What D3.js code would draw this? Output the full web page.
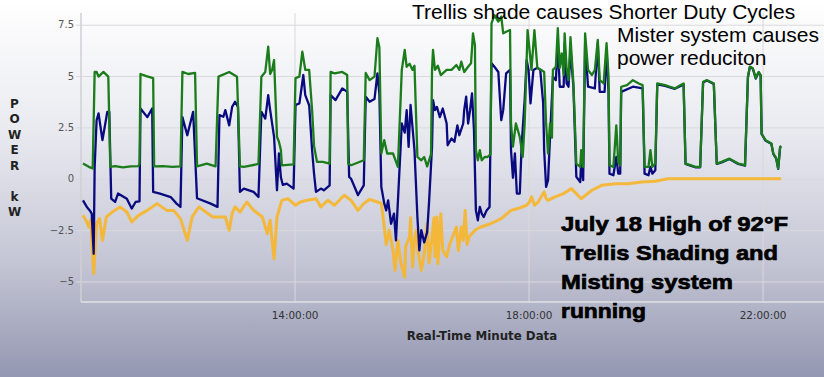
<!DOCTYPE html>
<html><head><meta charset="utf-8">
<script src="https://cdn.jsdelivr.net/npm/d3@7/dist/d3.min.js"></script>
<style>html,body{margin:0;padding:0;overflow:hidden;background:#fff}</style>
</head><body><svg id="chart" width="824" height="377"></svg>
<script>
// ---- data (time of day, kW) ----
const xTickLabels = ["14:00:00", "18:00:00", "22:00:00"];
const yTicks = [-5, -2.5, 0, 2.5, 5, 7.5];
const yAxisTitle = ["P","O","W","E","R","","k","W"];
const xAxisTitle = "Real-Time Minute Data";
const topNote = "Trellis shade causes Shorter Duty Cycles";
const misterNote = ["Mister system causes", "power reduciton"];
const dayNote = ["July 18 High of 92\u00B0F", "Trellis Shading and", "Misting system", "running"];

const greenLoad = [["10:23",0.74],["10:29",0.58],["10:33",0.50],["10:35",5.20],["10:37",5.20],["10:39",4.97],["10:44",5.20],["10:49",4.97],["10:51",0.58],["10:56",0.62],["11:04",0.55],["11:12",0.60],["11:20",0.62],["11:21",0.74],["11:22",5.10],["11:28",5.00],["11:35",4.90],["11:36",0.60],["11:45",0.62],["11:55",0.58],["12:03",0.60],["12:05",5.20],["12:11",5.10],["12:18",5.15],["12:20",0.60],["12:30",0.74],["12:39",0.60],["12:42",4.97],["12:53",5.20],["13:01",4.97],["13:04",0.60],["13:08",0.58],["13:23",0.72],["13:26",4.97],["13:30",5.20],["13:33",6.43],["13:35",5.10],["13:37",5.30],["13:39",5.78],["13:42",2.04],["13:44",1.80],["13:46",1.40],["13:47",0.65],["13:59",0.70],["14:01",4.90],["14:05",4.97],["14:08",6.19],["14:11",5.30],["14:15",5.30],["14:18",3.34],["14:20",1.60],["14:23",0.82],["14:29",0.82],["14:36",0.74],["14:37",5.20],["14:41",5.13],["14:49",5.20],["14:54",5.05],["14:55",0.74],["14:58",0.66],["15:11",0.90],["15:13",5.15],["15:17",4.80],["15:22",4.97],["15:25",6.84],["15:27",6.40],["15:29",1.23],["15:32",1.88],["15:35",1.23],["15:41",1.23],["15:46",0.58],["15:50",5.30],["15:53",6.27],["15:55",5.45],["15:58",5.60],["16:01",5.30],["16:03",5.50],["16:06",1.06],["16:10",0.90],["16:13",1.06],["16:16",0.60],["16:20",1.20],["16:21",5.30],["16:22",6.27],["16:24",5.30],["16:27",5.50],["16:30",5.05],["16:36",5.30],["16:41",5.30],["16:46",5.54],["16:49",5.30],["16:51",5.70],["16:54",5.20],["16:58",5.45],["17:01",5.62],["17:03",7.08],["17:05",6.50],["17:06",1.39],["17:08",0.90],["17:10",1.39],["17:12",0.90],["17:15",1.06],["17:18",1.06],["17:21",1.20],["17:22",7.57],["17:25",7.97],["17:29",7.65],["17:32",7.90],["17:34",7.08],["17:37",7.16],["17:41",7.24],["17:42",2.69],["17:44",1.56],["17:47",2.69],["17:51",2.04],["17:54",1.06],["17:56",2.69],["17:59",7.24],["18:01",6.27],["18:03",5.30],["18:06",7.24],["18:09",5.40],["18:13",5.30],["18:16",5.20],["18:18",2.69],["18:20",1.23],["18:22",2.69],["18:24",2.00],["18:25",5.30],["18:28",5.45],["18:30",7.33],["18:32",5.40],["18:34",6.10],["18:36",5.05],["18:37",7.08],["18:39",5.40],["18:41",4.80],["18:43",6.90],["18:46",4.64],["18:49",0.74],["18:53",0.58],["18:54",1.39],["18:56",0.58],["18:58",7.08],["19:01",5.30],["19:05",5.05],["19:08",5.30],["19:11",6.76],["19:13",4.80],["19:17",4.64],["19:20",6.60],["19:22",5.00],["19:23",0.66],["19:27",0.58],["19:30",2.60],["19:32",0.80],["19:34",0.66],["19:35",4.48],["19:41",4.56],["19:47",4.80],["19:53",4.64],["19:57",4.56],["19:59",0.58],["20:03",0.58],["20:05",1.39],["20:07",0.58],["20:10",0.74],["20:12",4.64],["20:20",4.56],["20:25",4.48],["20:30",4.40],["20:36",4.56],["20:39",4.64],["20:41",0.74],["20:46",0.66],["20:51",0.58],["20:56",0.58],["20:59",4.72],["21:03",4.80],["21:10",4.64],["21:13",0.74],["21:18",0.82],["21:26",0.98],["21:35",0.74],["21:42",0.66],["21:45",4.97],["21:47",5.46],["21:50",5.38],["21:53",4.90],["21:56",5.20],["21:58",5.05],["21:59",2.20],["22:03",1.88],["22:06",1.80],["22:09",1.72],["22:11",1.23],["22:14",1.00],["22:16",0.50],["22:18",1.55],["22:19",1.60]];

const navyNet = [["10:23",-1.05],["10:27",-1.37],["10:30",-1.54],["10:32",-1.70],["10:34",-3.65],["10:35",0.58],["10:37",2.85],["10:39",3.18],["10:43",1.88],["10:48",3.26],["10:50",3.26],["10:52",-0.97],["10:56",-1.13],["10:59",-0.72],["11:08",-0.97],["11:13",-1.45],["11:17",-1.13],["11:21",-1.10],["11:22",3.42],["11:29",3.00],["11:34",3.42],["11:35",-0.64],["11:42",-0.72],["11:53",-0.89],["11:59",-1.21],["12:03",-1.37],["12:05",3.00],["12:10",2.12],["12:16",3.26],["12:20",-0.95],["12:34",-1.21],["12:41",-1.37],["12:43",3.10],["12:47",3.02],["12:49",3.34],["12:53",2.60],["12:56",3.50],["12:59",3.75],["13:02",3.50],["13:04",-0.64],["13:08",-0.48],["13:18",-0.64],["13:23",-0.89],["13:26",3.26],["13:30",2.93],["13:33",4.07],["13:35",3.34],["13:39",2.04],["13:42",-0.56],["13:44",1.23],["13:46",0.07],["13:48",-0.30],["13:52",-0.24],["13:59",-0.48],["14:01",3.59],["14:05",3.67],["14:09",5.05],["14:11",4.07],["14:15",3.58],["14:18",1.40],["14:20",0.25],["14:22",-0.64],["14:27",-0.48],["14:30",-0.56],["14:36",-0.32],["14:37",4.07],["14:42",3.83],["14:49",4.40],["14:54",4.23],["14:56",0.09],["14:58",0.00],["15:03",-0.56],["15:05",-0.80],["15:11",-0.32],["15:13",3.99],["15:17",3.75],["15:22",3.88],["15:25",5.13],["15:27",4.15],["15:29",-0.40],["15:32",-1.20],["15:34",-1.54],["15:36",-1.05],["15:39",-2.19],["15:42",-1.70],["15:44",-3.00],["15:46",-1.10],["15:50",2.69],["15:53",2.25],["15:55",3.34],["15:57",1.55],["15:59",3.59],["16:03",1.40],["16:06",-1.86],["16:08",-3.49],["16:10",-2.50],["16:13",-3.10],["16:16",-2.60],["16:18",-1.10],["16:21",1.55],["16:22",3.83],["16:24",3.34],["16:26",3.50],["16:29",3.00],["16:32",3.42],["16:36",2.69],["16:37",1.63],["16:41",1.96],["16:44",1.80],["16:47",2.60],["16:49",2.12],["16:53",2.69],["16:54",3.34],["16:56",4.00],["16:58",2.69],["17:00",3.34],["17:02",4.15],["17:04",2.40],["17:06",-1.54],["17:08",-2.02],["17:10",-1.37],["17:12",-1.70],["17:14",-1.86],["17:17",-1.54],["17:20",-1.37],["17:22",5.62],["17:25",5.45],["17:29",5.20],["17:32",2.85],["17:34",3.34],["17:37",5.13],["17:41",5.30],["17:42",1.40],["17:44",0.05],["17:46",1.23],["17:48",-0.72],["17:51",-0.72],["17:53",1.72],["17:56",3.83],["17:58",5.78],["18:00",5.30],["18:02",3.67],["18:05",5.30],["18:09",5.40],["18:12",5.30],["18:15",3.67],["18:16",1.39],["18:18",-0.40],["18:20",-0.07],["18:22",2.00],["18:25",4.97],["18:28",4.80],["18:30",6.60],["18:32",4.48],["18:36",4.48],["18:37",6.60],["18:39",4.64],["18:41",4.48],["18:43",6.27],["18:46",4.48],["18:49",0.09],["18:53",-0.16],["18:54",0.90],["18:56",-0.07],["18:58",6.60],["19:01",4.48],["19:08",4.40],["19:11",6.60],["19:13",4.23],["19:18",4.23],["19:20",6.27],["19:22",4.23],["19:23",0.25],["19:27",0.17],["19:30",1.06],["19:32",0.25],["19:34",0.25],["19:35",4.23],["19:47",4.48],["19:57",4.40],["19:59",0.25],["20:03",0.17],["20:05",0.58],["20:07",0.25],["20:10",0.41],["20:12",4.60],["20:20",4.52],["20:25",4.45],["20:30",4.38],["20:36",4.52],["20:39",4.60],["20:41",0.72],["20:46",0.64],["20:51",0.56],["20:56",0.56],["20:59",4.70],["21:03",4.78],["21:10",4.62],["21:13",0.72],["21:18",0.80],["21:26",0.96],["21:35",0.72],["21:42",0.64],["21:45",4.95],["21:47",5.44],["21:50",5.36],["21:53",4.88],["21:56",5.18],["21:58",5.03],["21:59",2.18],["22:03",1.86],["22:06",1.78],["22:09",1.70],["22:11",1.21],["22:14",0.98],["22:16",0.48],["22:18",1.53],["22:19",1.58]];

const orangeSolar = [["10:23",-1.78],["10:27",-2.10],["10:29",-2.35],["10:31",-2.00],["10:34",-4.62],["10:37",-2.18],["10:40",-1.94],["10:43",-3.00],["10:47",-1.86],["10:53",-1.62],["11:01",-1.37],["11:08",-1.62],["11:13",-2.10],["11:20",-1.78],["11:29",-1.54],["11:39",-1.21],["11:49",-1.54],["11:56",-1.54],["12:03",-1.94],["12:10",-3.00],["12:15",-1.86],["12:22",-1.37],["12:36",-1.86],["12:49",-1.86],["12:53",-2.51],["12:56",-1.70],["12:59",-1.37],["13:04",-1.62],["13:11",-1.13],["13:18",-1.53],["13:27",-1.86],["13:32",-2.67],["13:35",-2.02],["13:37",-3.00],["13:39",-3.90],["13:42",-1.86],["13:47",-1.05],["13:53",-0.97],["14:01",-1.29],["14:06",-1.13],["14:13",-1.05],["14:22",-0.97],["14:27",-1.37],["14:34",-1.05],["14:41",-1.29],["14:51",-0.80],["14:58",-1.05],["15:05",-1.54],["15:11",-1.21],["15:17",-1.00],["15:25",-1.13],["15:29",-1.20],["15:32",-2.35],["15:34",-3.20],["15:37",-2.51],["15:41",-3.49],["15:43",-4.46],["15:46",-3.00],["15:49",-4.10],["15:53",-4.79],["15:54",-3.30],["15:58",-2.84],["15:59",-1.90],["16:01",-4.30],["16:03",-3.00],["16:05",-2.50],["16:07",-3.60],["16:10",-4.46],["16:13",-3.65],["16:16",-2.19],["16:18",-4.10],["16:21",-2.84],["16:23",-1.90],["16:24",-3.80],["16:26",-1.86],["16:27",-4.14],["16:30",-1.70],["16:32",-3.49],["16:36",-3.80],["16:39",-3.20],["16:42",-2.84],["16:46",-2.35],["16:48",-3.49],["16:51",-2.35],["16:53",-3.00],["16:55",-1.54],["16:57",-3.20],["16:59",-2.84],["17:05",-2.51],["17:11",-2.35],["17:21",-2.19],["17:32",-1.94],["17:42",-1.54],["17:49",-1.45],["17:58",-1.29],["18:01",-1.13],["18:03",-0.88],["18:06",-1.29],["18:10",-1.13],["18:13",-0.88],["18:16",-0.64],["18:18",-0.97],["18:20",-1.05],["18:27",-0.88],["18:36",-0.72],["18:44",-0.48],["18:54",-0.97],["19:05",-0.56],["19:15",-0.32],["19:29",-0.24],["19:42",-0.24],["19:56",-0.16],["20:10",-0.12],["20:23",0.00],["21:00",0.00],["21:40",0.00],["22:19",0.00]];

// ---- drawing ----
(function () {
const W = 824, H = 377;
const parseHM = d3.timeParse("%H:%M");
const parseHMS = d3.timeParse("%H:%M:%S");
const svg = d3.select("#chart");
const defs = svg.append("defs");
const grad = defs.append("linearGradient").attr("id", "bg")
  .attr("x1", 0).attr("y1", 0).attr("x2", 0).attr("y2", 1);
[[0, "#ffffff"], [0.35, "#e9eaf0"], [0.7, "#c3c5d4"], [1, "#9497b1"]].forEach(s =>
  grad.append("stop").attr("offset", s[0]).attr("stop-color", s[1]));
svg.append("rect").attr("width", W).attr("height", H).attr("fill", "url(#bg)");

const pL = 81, pR = 824, pT = 13, pB = 302;
const x = d3.scaleTime().domain([parseHM("10:21"), parseHM("23:03")]).range([pL, pR]);
const y = d3.scaleLinear().domain([-6, 8.07]).range([pB, pT]);

const gridColor = "#d9d9dd";
const tickFont = "Verdana, 'DejaVu Sans', sans-serif";

const gy = svg.append("g").attr("transform", `translate(${pL},0)`)
  .call(d3.axisLeft(y).tickValues(yTicks).tickSize(-(pR - pL)).tickPadding(7)
    .tickFormat(d => d3.format("")(d)));
gy.select(".domain").remove();
gy.selectAll(".tick line").attr("x1", -5).attr("stroke", gridColor).attr("stroke-width", 1);
gy.selectAll(".tick text").attr("fill", "#555").style("font-family", tickFont).style("font-size", "10px");

const gx = svg.append("g").attr("transform", `translate(0,${pB})`)
  .call(d3.axisBottom(x).tickValues(xTickLabels.map(parseHMS))
    .tickSize(-(pB - pT)).tickPadding(9.6).tickFormat(d3.timeFormat("%H:%M:%S")));
gx.select(".domain").remove();
gx.selectAll(".tick line").attr("stroke", gridColor).attr("stroke-width", 1);
gx.selectAll(".tick text").attr("fill", "#333").style("font-family", tickFont).style("font-size", "10.4px");

svg.append("line").attr("x1", pL).attr("x2", pL).attr("y1", pT).attr("y2", pB)
  .attr("stroke", "#cfcfd4").attr("stroke-width", 1.5);
svg.append("line").attr("x1", pL).attr("x2", pR).attr("y1", pB).attr("y2", pB)
  .attr("stroke", "#e0e0e6").attr("stroke-width", 1.5);

const line = d3.line().x(d => x(parseHM(d[0]))).y(d => y(d[1]));
const series = [
  { data: orangeSolar, color: "#f6b52c", width: 3, op: 0.92 },
  { data: navyNet, color: "#0a0a80", width: 2.3, op: 1 },
  { data: greenLoad, color: "#1b7c1b", width: 2.3, op: 1 }
];
svg.append("g").selectAll("path").data(series).join("path")
  .attr("d", d => line(d.data)).attr("fill", "none")
  .attr("stroke", d => d.color).attr("stroke-width", d => d.width)
  .attr("stroke-opacity", d => d.op).attr("stroke-linejoin", "round");

svg.append("text").attr("x", 482).attr("y", 340).attr("text-anchor", "middle")
  .style("font-family", tickFont).style("font-weight", "bold").style("font-size", "11.8px")
  .attr("fill", "#222").text(xAxisTitle);
svg.append("g").selectAll("text").data(yAxisTitle).join("text")
  .attr("x", 14.5).attr("y", (d, i) => 107.5 + i * 15.5).attr("text-anchor", "middle")
  .style("font-family", tickFont).style("font-weight", "bold").style("font-size", "12px")
  .attr("fill", "#222").text(d => d);

const noteFont = "'Liberation Sans', Arial, sans-serif";
svg.append("text").attr("x", 412).attr("y", 18.5)
  .style("font-family", noteFont).style("font-size", "21px").attr("fill", "#000").text(topNote);
svg.append("g").selectAll("text").data(misterNote).join("text")
  .attr("x", 617).attr("y", (d, i) => 42 + i * 23)
  .style("font-family", noteFont).style("font-size", "21px").attr("fill", "#000").text(d => d);
const dayWidths = [227, 217, 172, 85];
svg.append("g").selectAll("text").data(dayNote).join("text")
  .attr("x", 561).attr("y", (d, i) => 231 + i * 29)
  .attr("textLength", (d, i) => dayWidths[i]).attr("lengthAdjust", "spacingAndGlyphs")
  .style("font-family", noteFont).style("font-weight", "bold").style("font-size", "21px")
  .attr("fill", "#000").attr("stroke", "#000").attr("stroke-width", 0.7).text(d => d);
})();
</script></body></html>
